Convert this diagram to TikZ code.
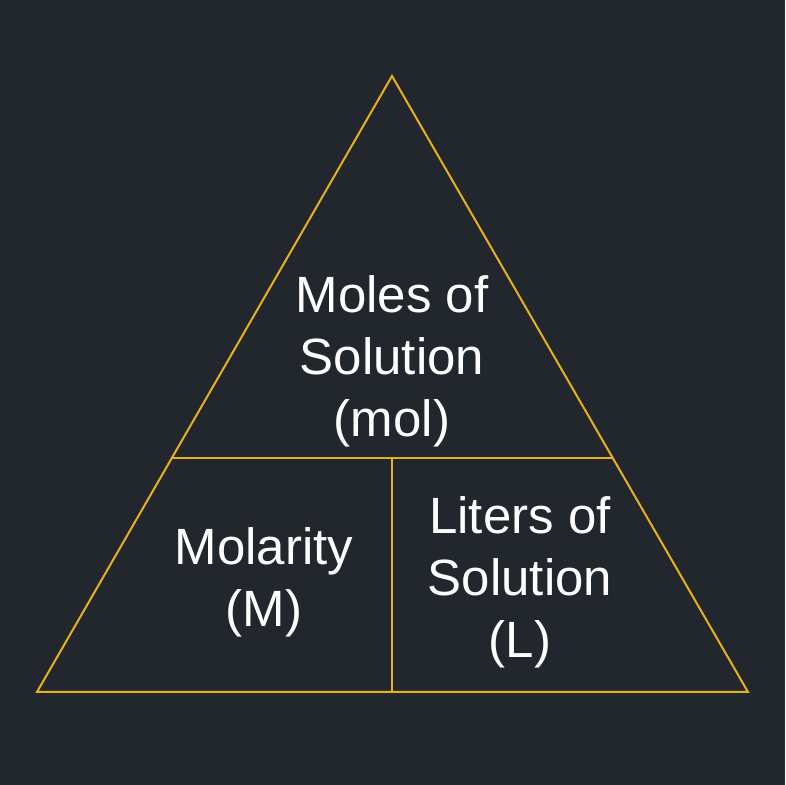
\documentclass[tikz,border=0pt]{standalone}
\usepackage{fontspec}
\setmainfont{Liberation Sans}
\usetikzlibrary{calc}
\definecolor{bgc}{HTML}{22272E}
\definecolor{goldc}{HTML}{E8B01C}
\tikzset{
  edge/.style={draw=goldc, line width=2pt, line join=miter},
  label/.style={text=white, align=center, inner sep=0pt, font=\fontsize{51}{62}\selectfont}
}
\begin{document}
\begin{tikzpicture}[x=1pt,y=1pt]
\fill[bgc] (0,0) rectangle (785,785);
\useasboundingbox (0,0) rectangle (785,785);
\coordinate (A) at (392,709);
\coordinate (B) at (37,93);
\coordinate (C) at (748,93);
\coordinate (L) at ($(A)!0.62!(B)$);
\coordinate (R) at ($(A)!0.62!(C)$);
\coordinate (M) at (392,327);
\coordinate (D) at (392,93);
\draw[edge] (A) -- (B) -- (C) -- cycle;
\draw[edge] (L) -- (R);
\draw[edge] (M) -- (D);
\node[label] (top) at (392,424) {Moles of\\Solution\\(mol)};
\node[label] (mol) at (264,203) {Molarity\\(M)};
\node[label] (lit) at (520,203) {Liters of\\Solution\\(L)};
\end{tikzpicture}
\end{document}
